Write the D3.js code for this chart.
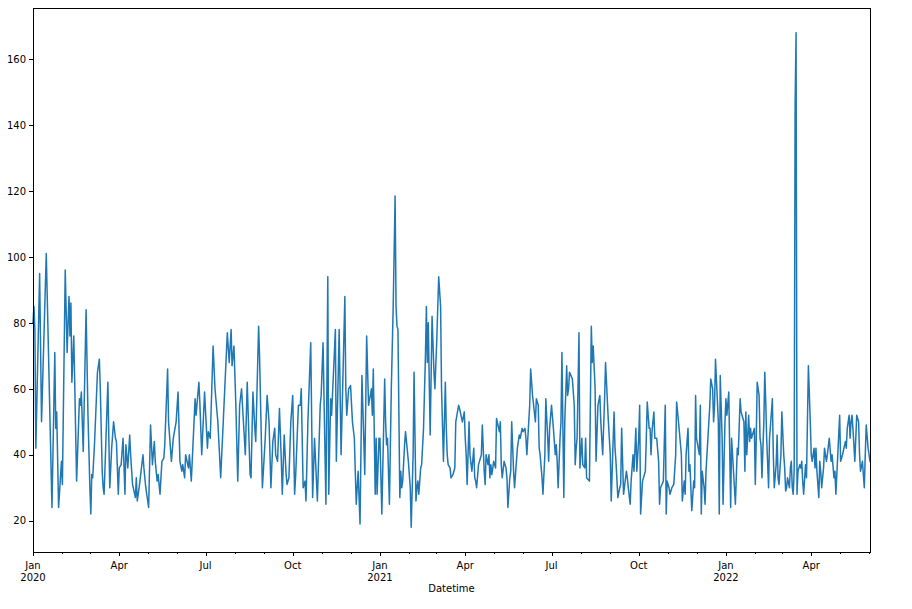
<!DOCTYPE html>
<html><head><meta charset="utf-8">
<script src="https://cdn.jsdelivr.net/npm/d3@7"></script>
<style>body{margin:0;background:#fff}svg{display:block}</style>
</head><body>
<svg id="chart" width="912" height="609"></svg>
<script>
// ---- data ----
const startDate = "2020-01-01";
const endDay = 883;             // last day shown (days after startDate)
const dayIndex = [
0,1,2,3,7,9,14,20,23,24,25,27,30,31,34,36,37,38,39,40,41,43,44,46,49,50,51,53,56,58,60,61,62,63,65,68,70,71,73,74,75,77,79,80,81,83,85,87,88,90,91,
93,95,97,98,100,102,103,105,108,109,110,112,114,116,117,119,122,124,126,128,129,131,132,134,136,138,139,142,143,146,148,
151,153,155,157,158,160,161,164,165,167,171,172,175,176,178,181,184,185,187,190,192,195,198,205,207,209,210,212,214,216,218,220,
224,226,229,230,232,234,235,238,239,242,245,247,249,251,253,255,256,258,260,262,263,265,267,268,270,272,274,276,277,280,282,283,285,287,288,290,293,295,
297,300,303,304,306,309,311,312,314,315,319,320,323,325,329,330,331,333,335,337,339,341,343,345,347,350,352,354,357,358,359,361,362,363,365,366,368,
371,372,373,374,376,378,380,382,383,384,385,387,388,389,390,392,393,396,398,399,401,402,404,405,406,407,409,410,412,414,415,416,417,419,421,423,424,426,428,430,431,433,435,436,437,438,440,441,
443,445,446,449,450,453,455,456,457,458,460,461,463,465,466,467,468,470,473,474,476,477,478,480,481,482,483,484,486,488,489,492,493,494,495,497,499,500,501,503,504,505,507,508,511,513,514,516,
517,519,520,521,524,525,527,530,531,533,534,535,537,538,540,541,543,544,545,547,549,550,551,552,553,554,556,557,558,560,561,563,564,565,566,569,571,572,573,574,576,577,579,580,582,583,584,587,588,589,590,
591,593,594,596,598,599,601,603,604,607,609,610,613,614,615,617,619,620,621,623,626,627,628,630,631,633,634,636,637,639,640,641,643,646,647,648,650,651,652,653,655,656,658,660,661,662,665,
667,668,669,671,672,674,676,678,679,681,684,685,687,688,689,691,692,693,694,695,697,698,699,700,703,704,705,706,708,709,710,712,714,715,717,718,719,720,723,724,725,727,728,730,731,732,734,736,737,
741,743,744,746,747,748,750,751,752,753,755,756,757,758,761,762,763,764,766,767,768,769,771,772,773,774,776,777,780,781,782,784,785,786,787,789,790,792,793,794,795,796,798,799,800,801,802,803,804,805,806,807,809,810,811,
812,813,815,816,818,820,821,822,824,825,826,827,829,830,831,832,834,835,837,838,840,842,843,845,846,847,849,851,852,854,857,858,859,861,862,863,864,865,867,868,869,871,872,873,875,877,878,879,881,882,883
];
const values = [
80,85,78,42,95,50,101,24,71,48,53,24,38,31,96,71,80,88,76,86,62,76,62,32,57,55,59,41,84,52,30,22,34,33,44,65,69,60,35,30,28,45,62,45,30,42,50,45,44,28,36,
37,45,28,43,36,46,40,31,27,33,26,30,35,40,36,30,24,49,37,44,38,32,34,28,38,39,43,66,50,38,45,
50,59,38,35,37,33,40,36,40,32,57,52,62,56,40,59,42,47,45,73,60,50,33,77,68,78,67,73,55,32,55,60,
40,62,34,33,59,48,44,79,70,30,45,58,50,30,44,48,40,38,54,38,28,46,34,31,33,50,58,28,33,55,55,60,30,32,26,50,74,27,
45,26,55,58,74,25,94,28,57,52,78,38,78,40,88,60,52,60,61,50,45,25,35,19,64,34,76,55,60,52,66,28,45,28,45,45,22,
63,50,43,45,25,60,85,118.5,85,79,78,27,35,30,32,43,47,38,30,18,40,65,26,30,32,28,36,37,48,70,85,68,80,46,82,65,60,75,94,85,60,38,62,48,40,37,36,33,
34,36,50,55,54,50,53,45,40,31,50,40,35,42,33,32,30,37,40,49,35,31,40,37,40,33,37,34,38,36,51,47,50,37,33,38,36,33,24,33,35,50,35,30,42,46,45,48,
47,48,45,40,55,66,58,50,57,55,42,40,33,28,40,57,45,38,48,55,48,44,40,43,38,30,45,50,71,27,50,67,58,60,65,63,55,37,42,45,77,36,45,37,36,45,33,32,55,79,68,
73,60,38,55,58,50,40,57,68,50,40,26,53,42,38,27,30,31,48,28,35,33,30,25,32,40,35,48,35,45,55,22,32,35,45,56,48,48,40,47,53,45,45,38,25,30,32,
55,22,32,30,28,30,31,40,56,50,40,26,32,28,40,48,35,37,30,23,32,30,58,45,40,55,22,35,30,25,35,45,55,63,60,50,55,69,50,22,64,45,25,50,57,52,59,24,45,
25,42,40,57,53,52,50,35,53,40,52,44,48,45,48,31,45,62,58,45,43,33,50,65,56,45,30,45,57,40,30,37,46,33,31,40,53,40,36,29,30,33,30,36,38,30,28,35,146,168,28,35,37,36,38,
32,28,37,33,67,50,40,38,42,36,42,35,27,38,35,30,36,42,38,40,45,38,40,33,35,28,40,52,38,40,44,42,48,52,45,50,52,48,38,45,52,50,40,35,38,30,40,49,42,40,38
];
const yTickValues = [20, 40, 60, 80, 100, 120, 140, 160];
const quarterNames = ["Jan", "Apr", "Jul", "Oct"];
const xAxisTitle = "Datetime";

// ---- layout ----
const W = 912, H = 609;
const plot = {left: 33, right: 870, top: 8, bottom: 552};
const svg = d3.select("#chart");
const font = "DejaVu Sans, sans-serif";

const start = d3.utcParse("%Y-%m-%d")(startDate);
const end = d3.utcDay.offset(start, endDay);
const data = dayIndex.map((d, i) => ({date: d3.utcDay.offset(start, d), v: values[i]}));

const x = d3.scaleUtc().domain([start, end]).range([plot.left, plot.right]);
const [vmin, vmax] = d3.extent(values);
const pad = (vmax - vmin) * 0.05;
const y = d3.scaleLinear().domain([vmin - pad, vmax + pad]).range([plot.bottom, plot.top]);

svg.append("rect").attr("width", W).attr("height", H).attr("fill", "#fff");

// line
svg.append("path")
  .datum(data)
  .attr("fill", "none")
  .attr("stroke", "#1f77b4")
  .attr("stroke-width", 1.5)
  .attr("stroke-linejoin", "round")
  .attr("stroke-linecap", "square")
  .attr("d", d3.line().x(d => x(d.date)).y(d => y(d.v)));

// frame
svg.append("rect")
  .attr("x", plot.left).attr("y", plot.top)
  .attr("width", plot.right - plot.left).attr("height", plot.bottom - plot.top)
  .attr("fill", "none").attr("stroke", "#000").attr("stroke-width", 1)
  .attr("shape-rendering", "crispEdges");

// y axis
const yAxis = d3.axisLeft(y).tickValues(yTickValues).tickSize(4).tickPadding(3);
const gy = svg.append("g").attr("transform", `translate(${plot.left},0)`).call(yAxis);
gy.select(".domain").remove();
gy.selectAll("line").attr("stroke", "#000").attr("shape-rendering", "crispEdges");
gy.selectAll("text").attr("font-family", font).attr("font-size", 10).attr("fill", "#000");

// x axis: minor monthly ticks, major quarterly ticks
const minorTicks = d3.utcMonth.range(start, d3.utcDay.offset(end, 1));
const majorTicks = minorTicks.filter(d => d.getUTCMonth() % 3 === 0);
const gx = svg.append("g");
gx.selectAll("line.minor").data(minorTicks).join("line")
  .attr("x1", d => Math.round(x(d)) + 0.5).attr("x2", d => Math.round(x(d)) + 0.5)
  .attr("y1", plot.bottom).attr("y2", plot.bottom + 2)
  .attr("stroke", "#000").attr("stroke-width", 1);
gx.selectAll("line.major").data(majorTicks).join("line")
  .attr("x1", d => Math.round(x(d)) + 0.5).attr("x2", d => Math.round(x(d)) + 0.5)
  .attr("y1", plot.bottom).attr("y2", plot.bottom + 4)
  .attr("stroke", "#000").attr("stroke-width", 1);
const lbl = gx.selectAll("text").data(majorTicks).join("text")
  .attr("font-family", font).attr("font-size", 10).attr("fill", "#000")
  .attr("text-anchor", "middle");
lbl.append("tspan")
  .attr("x", d => x(d)).attr("y", plot.bottom + 17)
  .text(d => quarterNames[d.getUTCMonth() / 3]);
lbl.filter(d => d.getUTCMonth() === 0).append("tspan")
  .attr("x", d => x(d)).attr("y", plot.bottom + 29)
  .text(d => d.getUTCFullYear());

svg.append("text")
  .attr("x", (plot.left + plot.right) / 2).attr("y", plot.bottom + 40)
  .attr("text-anchor", "middle")
  .attr("font-family", font).attr("font-size", 10).attr("fill", "#000")
  .text(xAxisTitle);
</script>
</body></html>
